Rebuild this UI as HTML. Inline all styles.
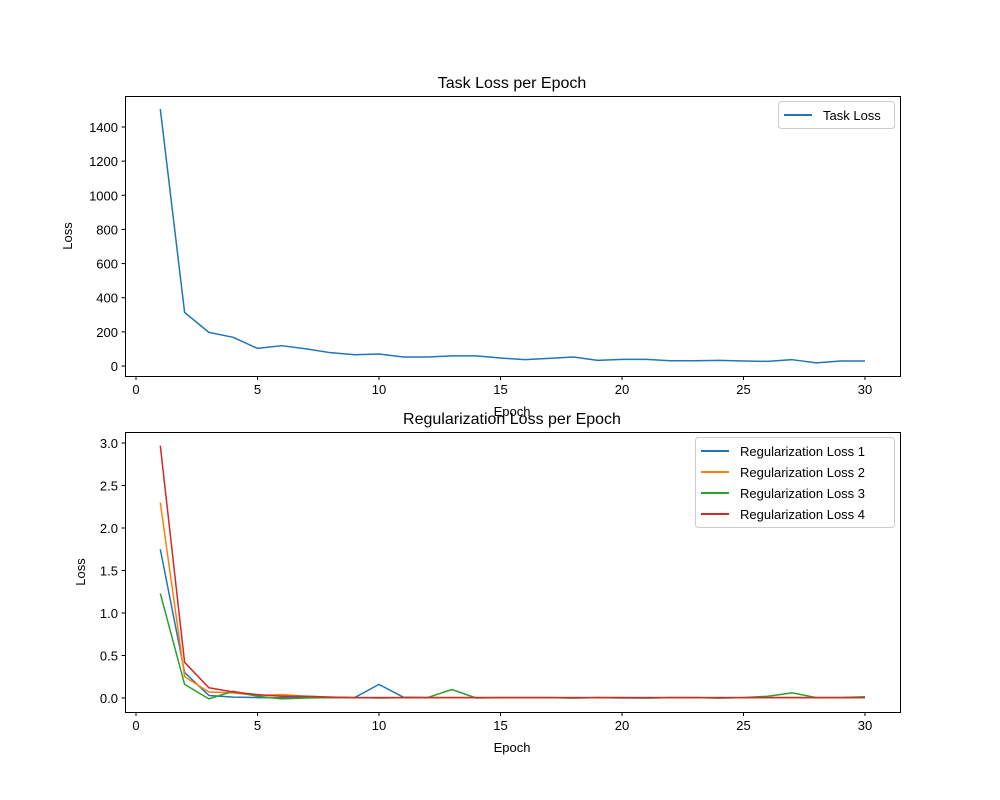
<!DOCTYPE html>
<html><head><meta charset="utf-8"><style>
body{margin:0;background:#fff}
svg{display:block;font-family:"Liberation Sans","DejaVu Sans",sans-serif}
</style></head><body>
<svg id="c" width="1000" height="800"></svg>
<script>
const epochs=[1,2,3,4,5,6,7,8,9,10,11,12,13,14,15,16,17,18,19,20,21,22,23,24,25,26,27,28,29,30];
const taskLoss=[1505,314,197,168,103,119,100,78,66,70,53,53,59,59,47,37,45,53,33,39,39,31,31,33,29,27,37,18,29,29];
const reg1=[1.75,0.30,0.03,0.01,0.005,0.003,0.005,0.005,0.005,0.16,0.01,0.005,0.005,0.005,0.005,0.005,0.005,0.0,0.005,0.0,0.0,0.005,0.005,0.0,0.005,0.005,0.005,0.005,0.005,0.005];
const reg2=[2.30,0.25,0.07,0.06,0.03,0.04,0.02,0.01,0.005,0.005,0.005,0.005,0.005,0.005,0.005,0.005,0.005,0.005,0.005,0.005,0.005,0.005,0.005,0.005,0.005,0.005,0.005,0.005,0.005,0.005];
const reg3=[1.23,0.16,-0.01,0.08,0.02,-0.01,0.0,0.005,0.005,0.0,0.005,0.005,0.10,0.0,0.005,0.005,0.005,0.0,0.005,0.005,0.0,0.005,0.005,0.0,0.005,0.02,0.06,0.005,0.005,0.015];
const reg4=[2.97,0.42,0.12,0.07,0.04,0.02,0.02,0.01,0.005,0.005,0.005,0.005,0.005,0.005,0.005,0.005,0.005,0.005,0.005,0.005,0.005,0.005,0.005,0.005,0.005,0.005,0.005,0.005,0.005,0.005];
const xTicks=[0,5,10,15,20,25,30];
const topTicks=[0,200,400,600,800,1000,1200,1400];
const botTicks=[0.0,0.5,1.0,1.5,2.0,2.5,3.0];
const NS="http://www.w3.org/2000/svg";
const svg=document.getElementById('c');
function el(t,a,p){const e=document.createElementNS(NS,t);for(const k in a)e.setAttribute(k,a[k]);(p||svg).appendChild(e);return e;}
const X0=125,X1=900;
const xs=v=>136+v*(865-136)/30;
function panel(cfg){
  const g=el('g',{});
  
  
  const ys=v=>cfg.y0px+(v-cfg.v0)*(cfg.y1px-cfg.y0px)/(cfg.v1-cfg.v0);
  cfg.series.forEach((s,i)=>{
    const p=el('polyline',{points:epochs.map((e,j)=>xs(e)+','+ys(s.data[j])).join(' '),fill:'none',stroke:s.color,'stroke-width':1.5,'stroke-linejoin':'round'},g);
    
    
  });
  const fr=el('rect',{x:X0+.5,y:cfg.top+.5,width:X1-X0,height:cfg.bot-cfg.top,fill:'none',stroke:'#000','stroke-width':1},g);
  
  
  xTicks.forEach(t=>{
    el('line',{x1:xs(t),x2:xs(t),y1:cfg.bot+.5,y2:cfg.bot+4,stroke:'#000'},g);
    const tx=el('text',{x:xs(t),y:cfg.bot+18,'font-size':13,'text-anchor':'middle'},g);tx.textContent=t;
    
    
  });
  cfg.ticks.forEach(t=>{
    el('line',{x1:X0-3.5,x2:X0+.5,y1:ys(t),y2:ys(t),stroke:'#000'},g);
    const tx=el('text',{x:X0-7,y:ys(t)+5,'font-size':13,'text-anchor':'end'},g);tx.textContent=cfg.fmt(t);
    
    
  });
  const ti=el('text',{x:512,y:cfg.top-8,'font-size':16,'text-anchor':'middle'},g);ti.textContent=cfg.title;
  
  
  const xl=el('text',{x:512,y:cfg.bot+40,'font-size':13,'text-anchor':'middle'},g);xl.textContent='Epoch';
  
  
  const yl=el('text',{x:0,y:0,'font-size':13,'text-anchor':'middle',transform:`translate(${cfg.ylx},${(cfg.top+cfg.bot)/2}) rotate(-90)`},g);yl.textContent='Loss';
  
  
  const lg=el('g',{},g);
  
  
  el('rect',{x:cfg.lx+.5,y:cfg.top+5.5,width:X1-6-cfg.lx,height:cfg.series.length*21+6,rx:3,fill:'#fff',stroke:'#ccc'},lg);
  cfg.series.forEach((s,i)=>{
    const yy=cfg.top+19+i*21;
    el('line',{x1:cfg.lx+6,x2:cfg.lx+34,y1:yy,y2:yy,stroke:s.color,'stroke-width':2},lg);
    const t=el('text',{x:cfg.lx+45,y:yy+5,'font-size':13},lg);t.textContent=s.label;
    
    
  });
}
panel({name:'task-loss-chart',top:96,bot:376,y0px:366,v0:0,y1px:127,v1:1400,ticks:topTicks,fmt:t=>String(t),title:'Task Loss per Epoch',ylx:72,lx:778,
  series:[{id:'task-loss-line',data:taskLoss,color:'#1f77b4',label:'Task Loss'}]});
panel({name:'regularization-loss-chart',top:432,bot:712,y0px:698,v0:0,y1px:443,v1:3,ticks:botTicks,fmt:t=>t.toFixed(1),title:'Regularization Loss per Epoch',ylx:85,lx:695,
  series:[{id:'reg-loss-1-line',data:reg1,color:'#1f77b4',label:'Regularization Loss 1'},
          {id:'reg-loss-2-line',data:reg2,color:'#ff7f0e',label:'Regularization Loss 2'},
          {id:'reg-loss-3-line',data:reg3,color:'#2ca02c',label:'Regularization Loss 3'},
          {id:'reg-loss-4-line',data:reg4,color:'#d62728',label:'Regularization Loss 4'}]});
</script>
</body></html>
